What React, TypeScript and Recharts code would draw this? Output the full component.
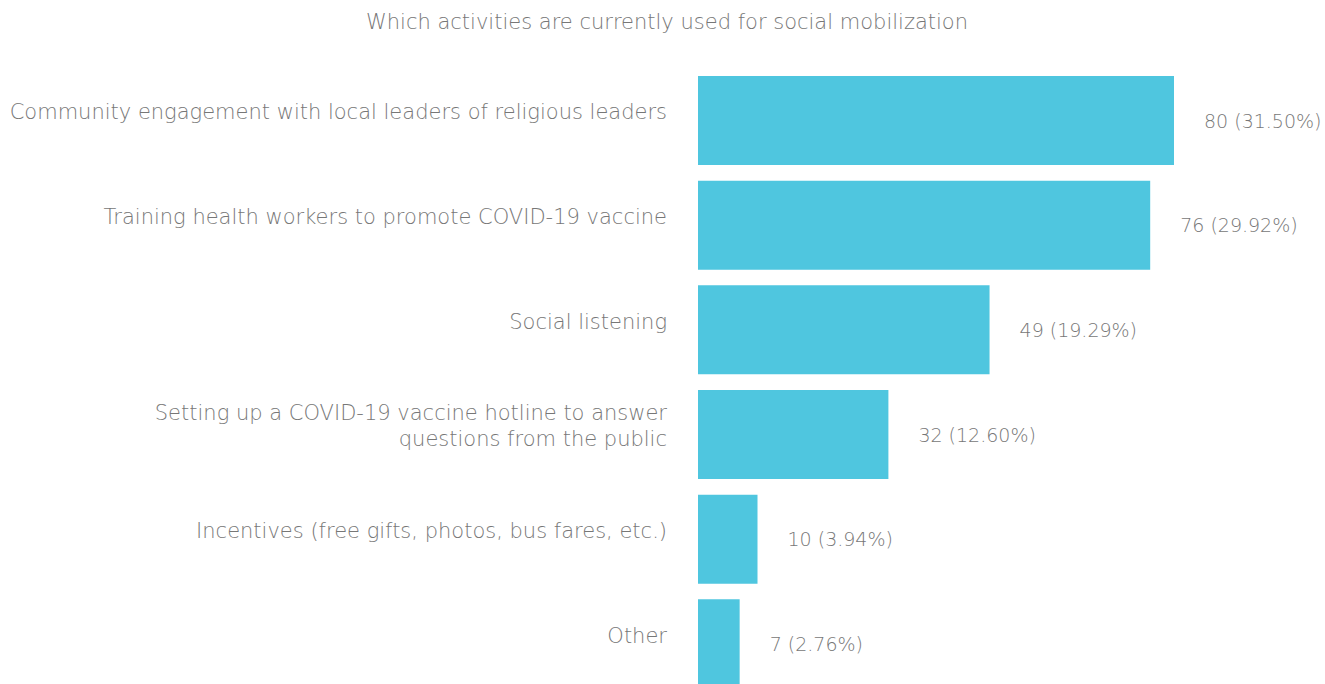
import React from 'react';
import { BarChart, Bar, XAxis, YAxis, LabelList } from 'recharts';

const categories = [
  'Community engagement with local leaders of religious leaders',
  'Training health workers to promote COVID-19 vaccine',
  'Social listening',
  'Setting up a COVID-19 vaccine hotline to answer\nquestions from the public',
  'Incentives (free gifts, photos, bus fares, etc.)',
  'Other',
];
const counts = [80, 76, 49, 32, 10, 7];
const percents = ['31.50%', '29.92%', '19.29%', '12.60%', '3.94%', '2.76%'];

const data = categories.map((c, i) => ({ name: c, value: counts[i], pct: percents[i] }));

const FONT = "'DejaVu Sans ExtraLight', 'DejaVu Sans', sans-serif";
const GRAY = '#777777';

const CategoryTick = (props: any) => {
  const { x, y, payload } = props;
  const lines = String(payload.value).split('\n');
  const lh = 26;
  const start = y - 8 - ((lines.length - 1) * lh) / 2 + 7;
  return (
    <text x={x} y={start} textAnchor="end" fill={GRAY} fontSize={21} fontFamily={FONT} fontWeight={200}>
      {lines.map((l, i) => (
        <tspan key={i} x={x} dy={i === 0 ? 0 : lh}>{l}</tspan>
      ))}
    </text>
  );
};

const ValueLabel = (props: any) => {
  const { x, y, width, height, index } = props;
  return (
    <text x={x + width + 30} y={y + height / 2 + 7} textAnchor="start" fill={GRAY} fontSize={19} fontFamily={FONT} fontWeight={200}>
      {`${counts[index]} (${percents[index]})`}
    </text>
  );
};

export default function App() {
  return (
    <div style={{ position: 'absolute', left: 0, top: 0, width: 1325, height: 684, overflow: 'hidden', background: '#fff' }}>
      <div style={{ position: 'absolute', left: 0, top: 10, width: 1334, textAlign: 'center', fontFamily: FONT, fontWeight: 200, fontSize: 21, color: GRAY }}>
        Which activities are currently used for social mobilization
      </div>
      <BarChart
        width={1325}
        height={696}
        data={data}
        layout="vertical"
        margin={{ top: 68, right: 151, bottom: 0, left: 0 }}
        barSize={89}
      >
        <XAxis type="number" hide domain={[0, 80]} />
        <YAxis
          type="category"
          dataKey="name"
          width={698}
          axisLine={false}
          tickLine={false}
          tickSize={0}
          tickMargin={31}
          tick={<CategoryTick />}
          interval={0}
        />
        <Bar dataKey="value" fill="#4fc6df" isAnimationActive={false}>
          <LabelList dataKey="value" content={<ValueLabel />} />
        </Bar>
      </BarChart>
    </div>
  );
}
